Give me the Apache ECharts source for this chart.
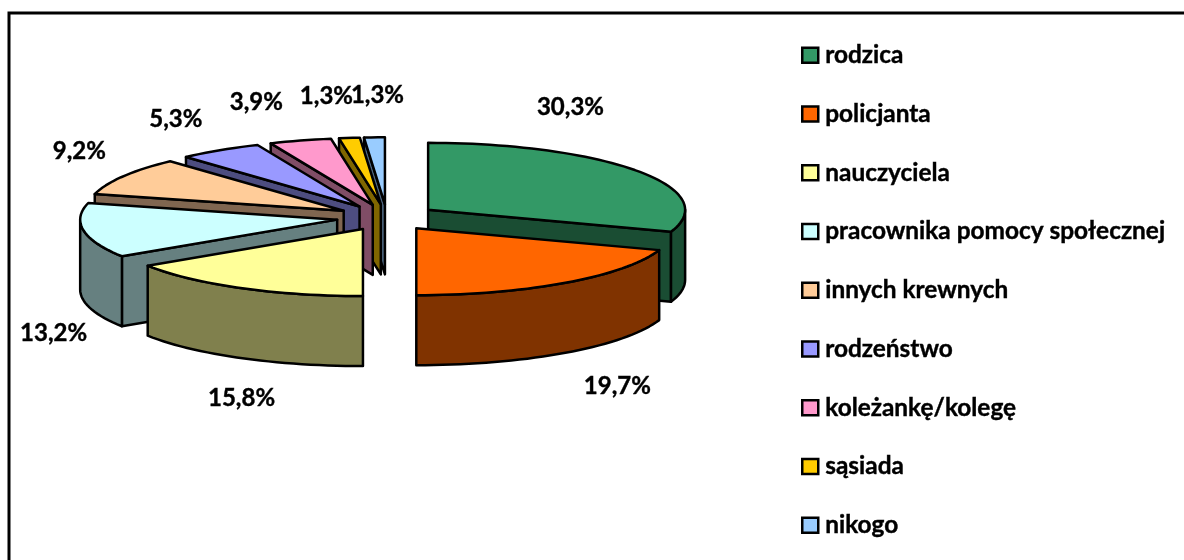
<!DOCTYPE html>
<html><head><meta charset="utf-8">
<style>html,body{margin:0;padding:0;background:#fff}#c{width:1184px;height:560px}</style>
<script src="https://cdn.jsdelivr.net/npm/echarts@6/dist/echarts.min.js"></script>
</head><body><div id="c"></div>
<script>
const categories = ['rodzica','policjanta','nauczyciela','pracownika pomocy społecznej','innych krewnych','rodzeństwo','koleżankę/kolegę','sąsiada','nikogo'];
const percentValues = [30.3,19.7,15.8,13.2,9.2,5.3,3.9,1.3,1.3];
const percentLabels = ['30,3%','19,7%','15,8%','13,2%','9,2%','5,3%','3,9%','1,3%','1,3%'];
const topColors = ['#339966','#FF6600','#FFFF99','#CCFFFF','#FFCC99','#9999FF','#FF99CC','#FFCC00','#99CCFF'];
const sideColors = ['#1A4D33','#803300','#80804D','#668080','#806650','#4D4D80','#804D66','#806600','#4D6680'];
const labelOffsets = [[-67,-64],[52,103],[1,110],[-30,103],[-44,-25],[-44,-31],[-44,-38],[-23,-42],[3,-42]];

// projection of the tilted, exploded pie
const CX = 387, CY = 217.5, RX = 257, RY = 67, DEPTH = 70, EXPLODE = 50.5;
const KY = RY / RX, D2R = Math.PI / 180;
const total = percentValues.reduce((a, b) => a + b, 0);
const starts = [];
percentValues.reduce((acc, v, i) => { starts[i] = acc; return acc + v; }, 0);
const ang = p => p / total * 360;

function rim(tip, deg) {
  return [tip[0] + RX * Math.sin(deg * D2R), tip[1] - RY * Math.cos(deg * D2R)];
}
function arc(tip, a, b) {
  const pts = [], n = Math.max(2, Math.ceil(Math.abs(b - a) / 2));
  for (let i = 0; i <= n; i++) pts.push(rim(tip, a + (b - a) * i / n));
  return pts;
}
const drop = p => [p[0], p[1] + DEPTH];

function renderSlice(idx) {
  return function (params, api) {
    const v = api.value(0);
    const a0 = ang(starts[idx]), a1 = a0 + ang(v), mid = (a0 + a1) / 2;
    const tip = [CX + EXPLODE * Math.sin(mid * D2R), CY - EXPLODE * KY * Math.cos(mid * D2R)];
    const line = { stroke: '#000', lineWidth: 2.5, lineJoin: 'round' };
    const side = sideColors[idx];
    const kids = [];
    const wall = pts => kids.push({ type: 'polygon', shape: { points: pts }, style: Object.assign({ fill: side }, line) });
    const face = deg => { const r = rim(tip, deg); wall([tip, r, drop(r), drop(tip)]); };
    if (Math.sin(a0 * D2R) < -1e-6) face(a0);
    if (Math.sin(a1 * D2R) > 1e-6) face(a1);
    const w0 = Math.max(a0, 90), w1 = Math.min(a1, 270);
    if (w1 > w0) { const p = arc(tip, w0, w1); wall(p.concat(p.map(drop).reverse())); }
    kids.push({ type: 'polygon', shape: { points: [tip].concat(arc(tip, a0, a1)) }, style: Object.assign({ fill: topColors[idx] }, line) });
    const m = [CX + (EXPLODE + RX) * Math.sin(mid * D2R), CY - (EXPLODE * KY + RY) * Math.cos(mid * D2R)];
    kids.push({ type: 'text', silent: true, z2: 50, style: {
      x: m[0] + labelOffsets[idx][0], y: m[1] + labelOffsets[idx][1], text: percentLabels[idx],
      fill: '#000', stroke: '#000', lineWidth: 0.4, font: 'bold 24px Lato', align: 'center', verticalAlign: 'middle' } });
    return { type: 'group', children: kids };
  };
}
// back slices are painted first
const order = categories.map((_, i) => i).sort((a, b) => {
  const c = i => Math.cos((ang(starts[i]) + ang(percentValues[i]) / 2) * D2R);
  return c(b) - c(a);
});
const zOf = {}; order.forEach((i, r) => zOf[i] = r + 2);

const chart = echarts.init(document.getElementById('c'), null, { renderer: 'canvas' });
chart.setOption({
  animation: false,
  backgroundColor: '#fff',
  graphic: [{ type: 'rect', shape: { x: 9, y: 13, width: 1300, height: 700 }, style: { fill: 'none', stroke: '#000', lineWidth: 3 }, silent: true, z: 0 }],
  legend: {
    orient: 'vertical', left: 796, top: 38, itemGap: 34.35, itemWidth: 16, itemHeight: 15, icon: 'rect',
    selectedMode: false, data: categories,
    itemStyle: { borderColor: '#000', borderWidth: 2.5 },
    textStyle: { color: '#000', fontFamily: 'Lato', fontWeight: 'bold', fontSize: 24.4, lineHeight: 23, padding: [0, 0, 0, 2], textBorderColor: '#000', textBorderWidth: 0.4 }
  },
  series: categories.map((name, i) => ({
    type: 'custom', name, coordinateSystem: 'none', z: zOf[i], silent: true,
    itemStyle: { color: topColors[i] },
    renderItem: renderSlice(i),
    data: [[percentValues[i]]]
  }))
});
</script></body></html>
